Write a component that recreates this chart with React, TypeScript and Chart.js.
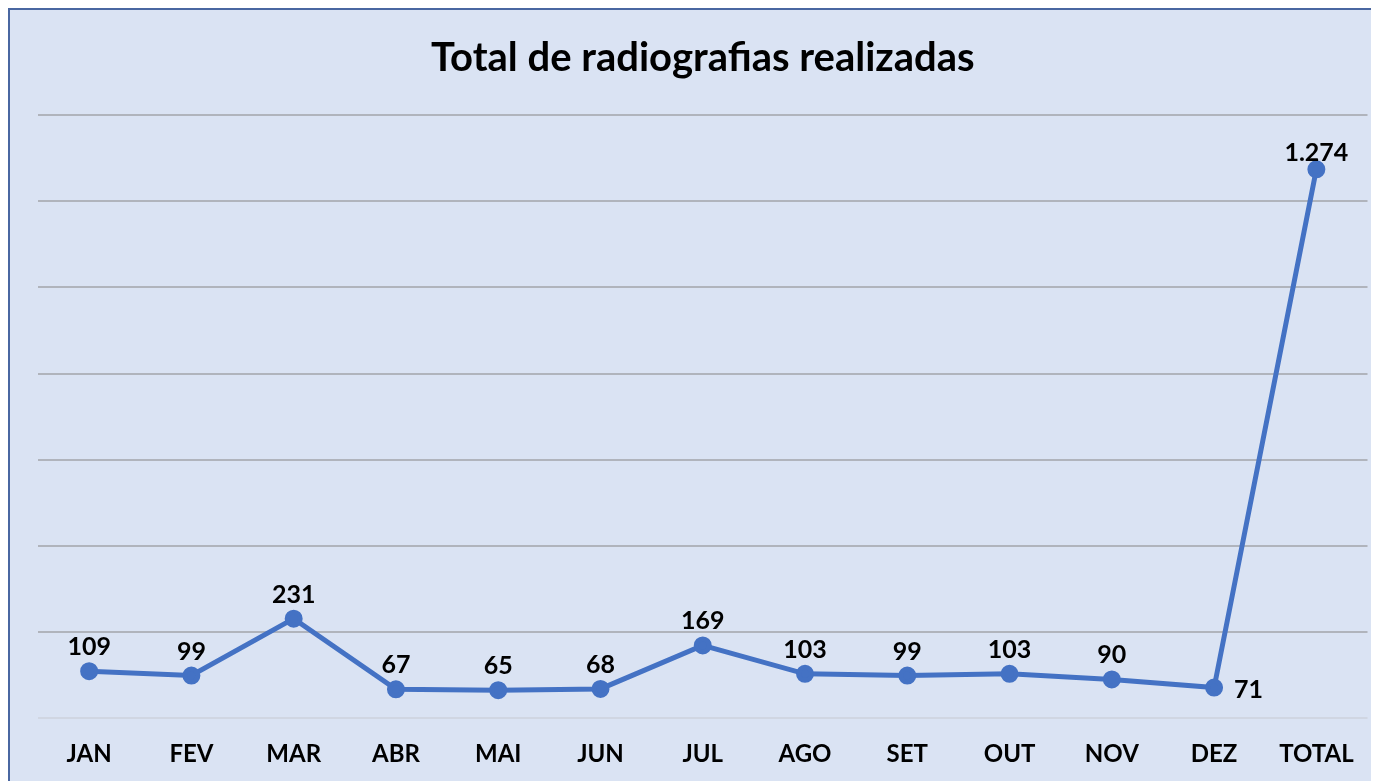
import React, { useEffect, useRef } from "react";
import { Chart, registerables } from "chart.js";

Chart.register(...registerables);

const categories = ["JAN", "FEV", "MAR", "ABR", "MAI", "JUN", "JUL", "AGO", "SET", "OUT", "NOV", "DEZ", "TOTAL"];
const radiografias = [109, 99, 231, 67, 65, 68, 169, 103, 99, 103, 90, 71, 1274];
const yTicks = [0, 200, 400, 600, 800, 1000, 1200, 1400];
const chartTitle = "Total de radiografias realizadas";

const LINE_COLOR = "#4472c4";
const FONT = "Lato, 'Open Sans', sans-serif";

function formatBR(v: number): string {
  return String(v).replace(/\B(?=(\d{3})+(?!\d))/g, ".");
}

const dataLabelPlugin = {
  id: "dataLabels",
  afterDatasetsDraw(chart: any) {
    const ctx = chart.ctx;
    const meta = chart.getDatasetMeta(0);
    ctx.save();
    ctx.font = `bold 25px ${FONT}`;
    ctx.fillStyle = "#000000";
    ctx.textBaseline = "middle";
    meta.data.forEach((pt: any, i: number) => {
      const v = radiografias[i];
      const txt = formatBR(v);
      if (i === 11) {
        ctx.textAlign = "left";
        ctx.fillText(txt, pt.x + 20, pt.y + 2);
      } else if (i === radiografias.length - 1) {
        ctx.textAlign = "center";
        ctx.fillText(txt, pt.x, pt.y - 16);
      } else {
        ctx.textAlign = "center";
        ctx.fillText(txt, pt.x, pt.y - 24);
      }
    });
    ctx.restore();
  },
};

export default function App() {
  const canvasRef = useRef<HTMLCanvasElement | null>(null);

  useEffect(() => {
    if (!canvasRef.current) return;
    const chart = new Chart(canvasRef.current, {
      type: "line",
      data: {
        labels: categories,
        datasets: [
          {
            label: "Radiografias",
            data: radiografias,
            borderColor: LINE_COLOR,
            backgroundColor: LINE_COLOR,
            borderWidth: 5,
            pointRadius: 6.5,
            pointHoverRadius: 6.5,
            pointBackgroundColor: LINE_COLOR,
            pointBorderColor: LINE_COLOR,
            tension: 0,
          },
        ],
      },
      options: {
        animation: false,
        responsive: false,
        maintainAspectRatio: false,
        layout: { padding: { left: 28, right: 1, top: 0, bottom: 0 } },
        plugins: {
          legend: { display: false },
          tooltip: { enabled: false },
          title: {
            display: true,
            text: chartTitle,
            fullSize: false,
            color: "#000000",
            font: { family: FONT, size: 40, weight: "bold" },
            padding: { top: 24, bottom: 33 },
          },
        },
        scales: {
          x: {
            offset: true,
            grid: { display: false, drawTicks: false },
            border: { display: false },
            ticks: {
              color: "#000000",
              font: { family: FONT, size: 24, weight: "bold" },
              padding: 22,
              maxRotation: 0,
              autoSkip: false,
            },
          },
          y: {
            min: 0,
            max: 1400,
            afterBuildTicks: (axis: any) => {
              axis.ticks = yTicks.map((v) => ({ value: v }));
            },
            grid: {
              color: (c: any) => (c.tick && c.tick.value === 0 ? "#d0d6e2" : "#b0b4bc"),
              lineWidth: 2,
              drawTicks: false,
            },
            border: { display: false },
            ticks: { display: false },
          },
        },
      },
      plugins: [dataLabelPlugin],
    });
    return () => chart.destroy();
  }, []);

  return (
    <div
      style={{
        width: 1371,
        height: 773,
        boxSizing: "border-box",
        borderLeft: "2px solid #4a67a1",
        borderTop: "2px solid #4a67a1",
        background: "#dae3f3",
        overflow: "hidden",
      }}
    >
      <canvas ref={canvasRef} width={1369} height={781} style={{ display: "block" }} />
    </div>
  );
}
